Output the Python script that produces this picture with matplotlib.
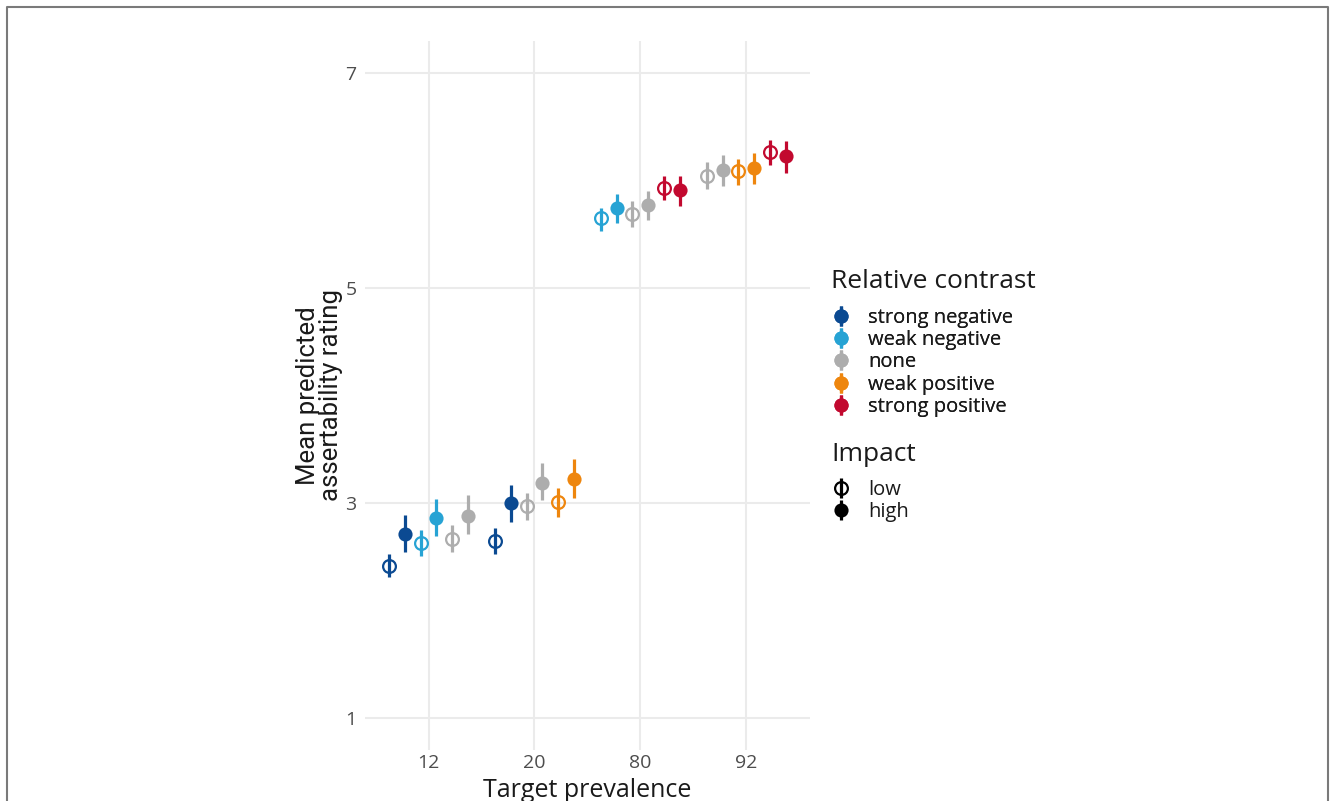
import matplotlib.pyplot as plt
from matplotlib.lines import Line2D

# Target prevalence categories
prevalence = ["12", "20", "80", "92"]
contrast_levels = ["strong negative", "weak negative", "none", "weak positive", "strong positive"]
contrast_colors = ["#0b4a92", "#27a3d4", "#adadad", "#ee860e", "#c2092f"]
impact_levels = ["low", "high"]

# one row per estimate: prevalence, contrast, impact, mean, lower, upper
prev_col = ["12"] * 6 + ["20"] * 6 + ["80"] * 6 + ["92"] * 6
contrast_col = [
    "strong negative", "strong negative", "weak negative", "weak negative", "none", "none",
    "strong negative", "strong negative", "none", "none", "weak positive", "weak positive",
    "weak negative", "weak negative", "none", "none", "strong positive", "strong positive",
    "none", "none", "weak positive", "weak positive", "strong positive", "strong positive",
]
impact_col = ["low", "high"] * 12
mean_col = [
    2.41, 2.71, 2.63, 2.86, 2.66, 2.88,
    2.65, 3.00, 2.97, 3.19, 3.01, 3.22,
    5.65, 5.75, 5.69, 5.77, 5.93, 5.91,
    6.04, 6.10, 6.09, 6.12, 6.27, 6.23,
]
lower_col = [
    2.31, 2.54, 2.51, 2.69, 2.54, 2.71,
    2.52, 2.82, 2.84, 3.03, 2.87, 3.05,
    5.53, 5.61, 5.57, 5.63, 5.82, 5.76,
    5.92, 5.95, 5.96, 5.97, 6.15, 6.07,
]
upper_col = [
    2.52, 2.89, 2.75, 3.04, 2.79, 3.07,
    2.77, 3.17, 3.09, 3.37, 3.14, 3.41,
    5.75, 5.88, 5.81, 5.90, 6.04, 6.04,
    6.17, 6.24, 6.20, 6.26, 6.38, 6.37,
]

FONT = "Open Sans"
TXT = "#1a1a1a"
W, H = 1330, 801


def make_legend(fig, handles, labels, title, title_px, top_px):
    # title drawn separately so the gap to the keys can be set
    fig.text(831 / W, 1 - title_px / H, title, fontsize=19, fontfamily=FONT,
             color=TXT, va="center", ha="left")
    leg = fig.legend(handles, labels, loc="upper left",
                     bbox_to_anchor=(831 / W, 1 - top_px / H),
                     frameon=False, prop={"family": FONT, "size": 14.5},
                     handlelength=1.0, handletextpad=0.85,
                     labelspacing=0.11, borderaxespad=0, borderpad=0)
    for t in leg.get_texts():
        t.set_color(TXT)
    return leg


def main():
    fig = plt.figure(figsize=(13.3, 8.01), dpi=100)
    ax = fig.add_axes([0.2744, 0.0637, 0.609 - 0.2744, 0.9488 - 0.0637])

    dodge = 0.15
    for i in range(len(mean_col)):
        slot = i % 6
        x = prevalence.index(prev_col[i]) + 1 + (slot - 2.5) * dodge
        color = contrast_colors[contrast_levels.index(contrast_col[i])]
        m = mean_col[i]
        ax.plot([x, x], [lower_col[i], upper_col[i]], color=color, lw=2.3,
                solid_capstyle="butt", zorder=3)
        if impact_col[i] == "low":
            ax.plot(x, m, "o", ms=9.2, mfc="none", mec=color, mew=1.6, zorder=4)
        else:
            ax.plot(x, m, "o", ms=10.2, mfc=color, mec=color, mew=0, zorder=4)

    ax.set_xlim(0.4, 4.6)
    ax.set_ylim(0.7, 7.3)
    ax.set_xticks(range(1, 5))
    ax.set_xticklabels(prevalence)
    ax.set_yticks([1, 3, 5, 7])
    ax.grid(True, color="#ebebeb", lw=1.5)
    ax.set_axisbelow(True)
    for s in ax.spines.values():
        s.set_visible(False)
    ax.tick_params(length=0, labelsize=14, labelcolor="#4d4d4d", pad=3)
    ax.tick_params(axis="y", pad=6)
    for lab in ax.get_xticklabels() + ax.get_yticklabels():
        lab.set_fontfamily(FONT)

    ax.set_xlabel("Target prevalence", fontsize=18, fontfamily=FONT,
                  color=TXT, labelpad=4)
    ax.set_ylabel("Mean predicted\nassertability rating", fontsize=18.5,
                  fontfamily="Roboto", color=TXT, labelpad=2, linespacing=0.95)

    # legend: relative contrast
    handles = []
    for c in contrast_colors:
        dot = Line2D([], [], marker="o", ls="none", ms=10.2, mfc=c, mec=c, mew=0)
        bar = Line2D([], [], marker="|", ls="none", ms=15, mec=c, mew=2.3)
        handles.append((dot, bar))
    leg1 = make_legend(fig, handles, contrast_levels, "Relative contrast", 281, 308)

    # legend: impact
    low = (Line2D([], [], marker="o", ls="none", ms=9.2, mfc="none", mec="black", mew=1.6),
           Line2D([], [], marker="|", ls="none", ms=15, mec="black", mew=2.3))
    high = (Line2D([], [], marker="o", ls="none", ms=10.2, mfc="black", mec="black", mew=0),
            Line2D([], [], marker="|", ls="none", ms=15, mec="black", mew=2.3))
    fig.add_artist(leg1)
    make_legend(fig, [low, high], impact_levels, "Impact", 454, 480)

    # thin frame around the figure (bottom edge cut off in reference)
    fig.add_artist(Line2D([7 / W, 7 / W, 1328 / W, 1328 / W],
                          [0, 1 - 7 / H, 1 - 7 / H, 0],
                          transform=fig.transFigure, color="#7a7a7a", lw=1.5))

    fig.savefig("out.png", dpi=100)


if __name__ == "__main__":
    main()
